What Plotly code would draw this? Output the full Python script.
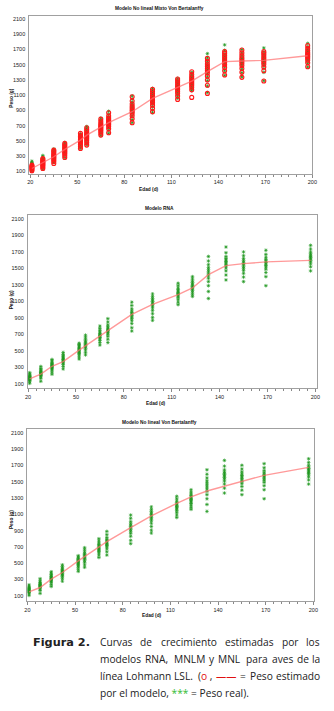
import plotly.graph_objects as go

W, H = 334, 711

# ---------------- data ----------------
edad = [21, 28, 35, 42, 52, 56, 65, 70, 85, 98, 114, 123, 133, 144, 155, 169, 197]
x_ticks = [20, 50, 80, 110, 140, 170, 200]
y_ticks = [100, 300, 500, 700, 900, 1100, 1300, 1500, 1700, 1900, 2100]

# real weights (green asterisks), same in all panels
peso_real = [
    [105, 125, 140, 150, 158, 165, 172, 180, 188, 195, 205, 218, 235],
    [130, 165, 185, 200, 210, 220, 228, 236, 245, 255, 268, 285, 310],
    [215, 240, 265, 280, 292, 302, 312, 322, 333, 345, 360, 378, 395],
    [280, 310, 335, 352, 365, 378, 390, 400, 412, 425, 440, 458, 480],
    [400, 425, 450, 468, 482, 495, 508, 520, 532, 545, 560, 575, 592],
    [450, 480, 510, 530, 548, 562, 575, 590, 605, 620, 640, 665, 690],
    [570, 600, 625, 645, 660, 672, 685, 698, 712, 728, 748, 772, 800],
    [600, 640, 675, 700, 718, 732, 745, 760, 775, 792, 815, 850, 890],
    [740, 780, 830, 865, 890, 910, 930, 948, 965, 985, 1010, 1050, 1090],
    [870, 905, 950, 990, 1020, 1042, 1062, 1080, 1098, 1115, 1135, 1160, 1190],
    [1060, 1090, 1120, 1145, 1165, 1180, 1195, 1210, 1225, 1242, 1262, 1290, 1320],
    [1160, 1185, 1210, 1232, 1250, 1265, 1280, 1295, 1310, 1328, 1348, 1372, 1400],
    [1135, 1220, 1290, 1340, 1380, 1410, 1435, 1460, 1485, 1510, 1545, 1590, 1645],
    [1360, 1420, 1470, 1505, 1530, 1550, 1568, 1585, 1602, 1620, 1645, 1690, 1760],
    [1340, 1395, 1440, 1475, 1500, 1520, 1540, 1558, 1575, 1595, 1620, 1655, 1700],
    [1290, 1400, 1450, 1490, 1515, 1535, 1555, 1572, 1590, 1610, 1635, 1670, 1720],
    [1470, 1520, 1555, 1580, 1600, 1615, 1630, 1645, 1660, 1678, 1700, 1735, 1780],
]

# individual estimates of the mixed model (red circles, panel 1)
peso_mnlm_ind = [
    [108, 120, 132, 142, 150, 158, 166, 175, 183],
    [139, 160, 178, 192, 205, 216, 228, 240, 255, 270],
    [205, 230, 252, 270, 286, 300, 315, 330, 348, 365, 380],
    [284, 310, 332, 350, 366, 382, 398, 415, 432, 450, 468],
    [402, 430, 455, 475, 492, 508, 524, 540, 558, 578, 599],
    [446, 478, 505, 528, 548, 566, 584, 602, 622, 648, 673],
    [577, 605, 628, 648, 665, 680, 695, 712, 732, 758, 787],
    [608, 660, 690, 712, 730, 746, 762, 780, 800, 828, 870],
    [739, 790, 830, 862, 888, 910, 932, 955, 985, 1025, 1080],
    [883, 930, 968, 1000, 1028, 1050, 1072, 1095, 1120, 1148, 1176],
    [1045, 1090, 1125, 1152, 1175, 1195, 1215, 1238, 1262, 1288, 1312],
    [1071, 1170, 1205, 1232, 1255, 1275, 1295, 1318, 1342, 1372, 1408],
    [1124, 1230, 1300, 1350, 1390, 1420, 1448, 1478, 1510, 1545, 1583],
    [1365, 1420, 1465, 1500, 1528, 1552, 1575, 1598, 1622, 1648, 1671],
    [1334, 1400, 1450, 1490, 1520, 1545, 1568, 1592, 1620, 1655, 1693],
    [1286, 1420, 1470, 1505, 1532, 1555, 1578, 1602, 1628, 1650, 1671],
    [1474, 1525, 1560, 1585, 1605, 1622, 1640, 1660, 1685, 1715, 1750],
]

curva_mnlm = [139, 218, 293, 389, 511, 577, 678, 739, 883, 1058, 1203, 1286, 1408, 1540, 1548, 1557, 1618]
curva_rna = [158, 218, 312, 368, 508, 560, 674, 740, 942, 1064, 1182, 1263, 1425, 1534, 1558, 1579, 1598]
curva_mnl = [149, 202, 304, 386, 528, 581, 692, 765, 936, 1079, 1234, 1312, 1385, 1446, 1508, 1577, 1675]

titulos = ["Modelo No lineal Mixto Von Bertalanffy", "Modelo RNA", "Modelo No lineal Von Bertalanffy"]


def flat(groups):
    xs, ys = [], []
    for a, vals in zip(edad, groups):
        for v in vals:
            xs.append(a)
            ys.append(v)
    return xs, ys


# ---------------- layout geometry (pixels) ----------------
panels = [
    dict(x0=27, x1=317, top=16, bot=174, xr=[19.4, 200.0], yr=[70, 2139],
         title=(160, 9), xlab=(150, 190), ylab=(9, 98)),
    dict(x0=25.5, x1=322, top=215, bot=389, xr=[19.9, 201.2], yr=[43, 2152],
         title=(160, 209), xlab=(157, 404), ylab=(9, 300)),
    dict(x0=25, x1=319, top=430, bot=602, xr=[20.0, 200.6], yr=[35, 2140],
         title=(160, 423), xlab=(153, 616), ylab=(8, 520)),
]

fig = go.Figure()
rx, ry = flat(peso_real)
mx, my = flat(peso_mnlm_ind)
curvas = [curva_mnlm, curva_rna, curva_mnl]

green = "rgba(30,150,30,0.75)"
red = "#ff1a1a"
tick_font = dict(family="Liberation Sans, Arial", size=5.5, color="#222")
small_font = dict(family="Liberation Sans, Arial", size=4.8, color="#111")


def pfx(px):
    return px / W


def pfy(py):
    return 1 - py / H


annotations = []
layout_axes = {}
for i, p in enumerate(panels):
    n = "" if i == 0 else str(i + 1)
    xa, ya = "x" + n, "y" + n
    fig.add_trace(go.Scatter(
        x=rx, y=ry, mode="markers", xaxis=xa, yaxis=ya,
        marker=dict(symbol="asterisk-open", size=3, color=green,
                    line=dict(color=green, width=0.9)),
        showlegend=False, hoverinfo="skip"))
    if i == 0:
        fig.add_trace(go.Scatter(
            x=mx, y=my, mode="markers", xaxis=xa, yaxis=ya,
            marker=dict(symbol="circle-open", size=4, color=red,
                        line=dict(color=red, width=1.1)),
            showlegend=False, hoverinfo="skip"))
    fig.add_trace(go.Scatter(
        x=edad, y=curvas[i], mode="lines", xaxis=xa, yaxis=ya,
        line=dict(color="rgba(255,110,110,0.7)", width=1.4),
        showlegend=False, hoverinfo="skip"))

    layout_axes["xaxis" + n] = dict(
        domain=[pfx(p["x0"]), pfx(p["x1"])], range=p["xr"], anchor=ya,
        tickmode="array", tickvals=x_ticks, ticks="outside", ticklen=3,
        tickcolor="#888", tickfont=tick_font,
        minor=dict(dtick=5, tick0=20, ticks="outside", ticklen=2, tickcolor="#888"),
        showline=True, mirror=True, linecolor="#a0a0a0", linewidth=1,
        showgrid=False, zeroline=False, fixedrange=True)
    layout_axes["yaxis" + n] = dict(
        domain=[pfy(p["bot"]), pfy(p["top"])], range=p["yr"], anchor=xa,
        tickmode="array", tickvals=y_ticks, ticks="", tickfont=tick_font,
        ticklabelstandoff=2,
        showline=True, mirror=True, linecolor="#a0a0a0", linewidth=1,
        showgrid=False, zeroline=False, fixedrange=True)

    annotations.append(dict(text="<b>" + titulos[i] + "</b>", x=pfx(p["title"][0]), y=pfy(p["title"][1]),
                            xref="paper", yref="paper", showarrow=False,
                            xanchor="center", yanchor="middle",
                            font=dict(family="Liberation Sans, Arial", size=4.8, color="#111")))
    annotations.append(dict(text="<b>Edad (d)</b>", x=pfx(p["xlab"][0]), y=pfy(p["xlab"][1]),
                            xref="paper", yref="paper", showarrow=False,
                            xanchor="center", yanchor="middle", font=small_font))
    annotations.append(dict(text="<b>Peso (g)</b>", x=pfx(p["ylab"][0]), y=pfy(p["ylab"][1]),
                            xref="paper", yref="paper", showarrow=False, textangle=-90,
                            xanchor="center", yanchor="middle", font=small_font))

# ---------------- caption (justified text emulated word by word) ----------------
cap_font = dict(family="Open Sans", size=10.2, color="#222")
annotations.append(dict(text="<b>Figura 2.</b>", x=pfx(29), y=pfy(643), xref="paper", yref="paper",
                        showarrow=False, xanchor="left", yanchor="middle",
                        font=dict(family="DejaVu Sans", size=11.3, color="#222")))
RED_O = "<span style='color:#e01010'>o</span>"
RED_DASH = "<span style='color:#e01010'>——</span>"
GREEN_AST = "<span style='color:#33bb33'>***</span>"

# (word, approximate rendered width in px) for each justified line
cap_words = [
    ([("Curvas", 35), ("de", 13), ("crecimiento", 57), ("estimadas", 50), ("por", 18), ("los", 15)], 643),
    ([("modelos", 44), ("RNA,", 27), ("MNLM", 35), ("y", 6), ("MNL", 25), ("para", 24),
      ("aves", 24), ("de", 13), ("la", 10)], 660),
    ([("línea", 27), ("Lohmann", 46), ("LSL.", 22), ("(" + RED_O + " ,", 18), (RED_DASH, 23),
      ("=", 8), ("Peso", 26), ("estimado", 47)], 677),
]
LX, RX = 97, 327
for words, yy in cap_words:
    total = sum(w for _, w in words)
    gap = (RX - LX - total) / (len(words) - 1)
    pos = LX
    for k, (txt, w) in enumerate(words):
        if k == 0:
            x, anchor = pos, "left"
        elif k == len(words) - 1:
            x, anchor = RX, "right"
        else:
            x, anchor = pos + w / 2, "center"
        annotations.append(dict(text=txt, x=pfx(x), y=pfy(yy), xref="paper", yref="paper",
                                showarrow=False, xanchor=anchor, yanchor="middle", font=cap_font))
        pos += w + gap

annotations.append(dict(text="por el modelo, " + GREEN_AST + " = Peso real).", x=pfx(LX), y=pfy(694),
                        xref="paper", yref="paper", showarrow=False, xanchor="left",
                        yanchor="middle", font=cap_font))

fig.update_layout(
    width=W, height=H, margin=dict(l=0, r=0, t=0, b=0),
    paper_bgcolor="white", plot_bgcolor="white",
    annotations=annotations, showlegend=False, **layout_axes)

fig.write_html("out.html", config=dict(displayModeBar=False),
               post_script="document.body.style.margin='0';document.body.style.overflow='hidden';")
